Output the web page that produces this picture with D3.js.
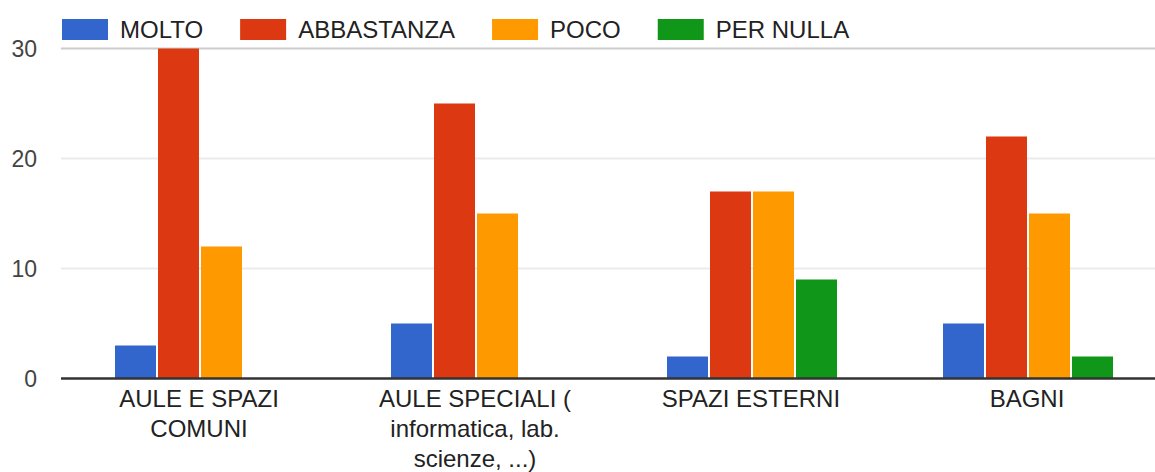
<!DOCTYPE html>
<html>
<head>
<meta charset="utf-8">
<script src="https://cdn.jsdelivr.net/npm/d3@7"></script>
<style>
  html, body { margin: 0; padding: 0; background: #fff; }
  svg { display: block; font-family: "Liberation Sans", Arial, sans-serif; }
</style>
</head>
<body>
<svg id="chart" width="1155" height="472"></svg>
<script>
const categories = ["AULE E SPAZI COMUNI", "AULE SPECIALI ( informatica, lab. scienze, ...)", "SPAZI ESTERNI", "BAGNI"];
const seriesNames = ["MOLTO", "ABBASTANZA", "POCO", "PER NULLA"];
const seriesColors = ["#3366cc", "#dc3912", "#ff9900", "#109618"];
const molto = [3, 5, 2, 5];
const abbastanza = [30, 25, 17, 22];
const poco = [12, 15, 17, 15];
const perNulla = [0, 0, 9, 2];
const yTicks = [0, 10, 20, 30];

const seriesValues = [molto, abbastanza, poco, perNulla];

const svg = d3.select("#chart");
const W = 1155;
const plotLeft = 61, plotRight = 1165;
const y = d3.scaleLinear().domain([0, 30]).range([378.5, 48.5]);
const x0 = d3.scaleBand().domain(categories).range([plotLeft, plotRight]).padding(0);
const groupW = 172;
const x1 = d3.scaleBand().domain(seriesNames).range([0, groupW]).padding(0);

// gridlines
const grid = svg.append("g");
grid.selectAll("line").data(yTicks.filter(t => t !== 0)).join("line")
  .attr("x1", plotLeft).attr("x2", W)
  .attr("y1", d => y(d)).attr("y2", d => y(d))
  .attr("stroke", d => d === 30 ? "#cccccc" : "#ebebeb")
  .attr("stroke-width", 2);

// y tick labels
svg.append("g").selectAll("text").data(yTicks).join("text")
  .attr("x", 37).attr("y", d => y(d) + 8)
  .attr("text-anchor", "end")
  .attr("font-size", 23)
  .attr("fill", "#444")
  .text(d => d);

// bars
const flat = [];
categories.forEach((c, ci) => {
  seriesNames.forEach((s, si) => {
    flat.push({ c, s, v: seriesValues[si][ci], color: seriesColors[si] });
  });
});
const offset = (x0.bandwidth() - 170) / 2 + 1;
svg.append("g").selectAll("rect").data(flat.filter(d => d.v > 0)).join("rect")
  .attr("x", d => x0(d.c) + offset + x1(d.s))
  .attr("width", x1.bandwidth() - 2)
  .attr("y", d => y(d.v))
  .attr("height", d => y(0) - y(d.v))
  .attr("fill", d => d.color);

// baseline
svg.append("line")
  .attr("x1", plotLeft).attr("x2", W)
  .attr("y1", y(0)).attr("y2", y(0))
  .attr("stroke", "#333").attr("stroke-width", 2.5);

// category labels with wrapping
const FS = 24;
const labelG = svg.append("g");
categories.forEach(c => {
  const cx = x0(c) + x0.bandwidth() / 2;
  const t = labelG.append("text")
    .attr("x", cx).attr("y", 407)
    .attr("text-anchor", "middle")
    .attr("font-size", FS)
    .attr("fill", "#222");
  const words = c.split(" ");
  let lines = [];
  let line = [];
  const tmp = labelG.append("text").attr("font-size", FS);
  words.forEach(w => {
    const trial = line.concat([w]).join(" ");
    tmp.text(trial);
    if (tmp.node().getComputedTextLength() > 220 && line.length) {
      lines.push(line.join(" "));
      line = [w];
    } else {
      line.push(w);
    }
  });
  lines.push(line.join(" "));
  tmp.remove();
  lines.forEach((l, i) => {
    t.append("tspan").attr("x", cx).attr("dy", i === 0 ? 0 : 30).text(l);
  });
});

// legend
const lg = svg.append("g");
let lx = 62;
seriesNames.forEach((s, i) => {
  lg.append("rect").attr("x", lx).attr("y", 19).attr("width", 46).attr("height", 21)
    .attr("fill", seriesColors[i]);
  const tx = lg.append("text").attr("x", lx + 58).attr("y", 38)
    .attr("font-size", FS).attr("fill", "#222").text(s);
  lx = lx + 58 + tx.node().getComputedTextLength() + 37;
});
</script>
</body>
</html>
